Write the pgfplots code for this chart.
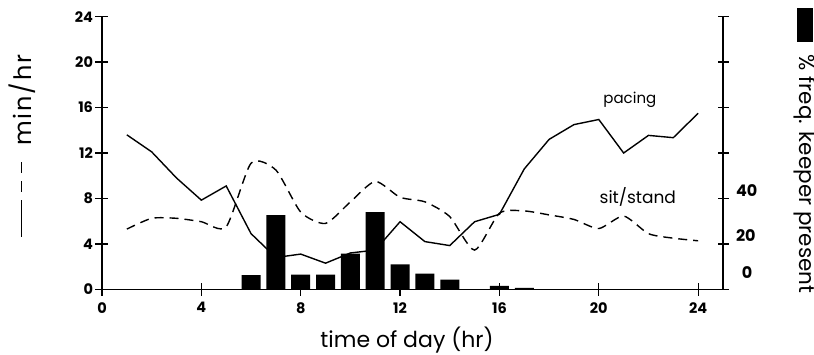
\documentclass[border=0pt]{standalone}
\usepackage{pgfplots}
\pgfplotsset{compat=1.18}
\usepackage{fontspec}
\setmainfont{Poppins}

\pgfplotstableread{
h pacing sit
1 13.6 5.3
2 12.1 6.25
3 9.8 6.25
4 7.85 5.95
5 9.1 5.5
6 4.9 11.1
7 2.8 10.5
8 3.1 6.8
9 2.3 5.8
10 3.2 7.7
11 3.45 9.5
12 5.95 8.1
13 4.2 7.7
14 3.85 6.4
15 5.95 3.45
16 6.6 6.7
17 10.6 6.9
18 13.2 6.55
19 14.5 6.15
20 14.95 5.35
21 12.0 6.45
22 13.55 4.9
23 13.35 4.5
24 15.5 4.27
}\lines

\pgfplotstableread{
h keeper
6 6.2
7 32.6
8 6.5
9 6.5
10 15.7
11 34
12 11
13 6.9
14 4.3
16 1.5
17 0.6
}\bars

\begin{document}
\begin{tikzpicture}[x=1pt,y=1pt]
\begin{axis}[
  at={(0,0)}, anchor=south west,
  scale only axis, width=621pt, height=272.6pt,
  xmin=0, xmax=25, ymin=0, ymax=24,
  axis x line=bottom, axis y line=left,
  axis line style={-, line width=1.5pt},
  xtick={0,4,...,24}, ytick={0,4,...,24},
  tick align=center, major tick length=13pt,
  tick style={line width=1.3pt, black},
  /pgf/number format/assume math mode=true,
  ticklabel style={font=\fontsize{14.5}{16}\selectfont\bfseries},
  xticklabel style={yshift=-3pt},
  yticklabel style={xshift=1pt},
  clip=false,
]
\addplot[black, line width=1.4pt] table[x=h, y=pacing] {\lines};
\addplot[black, line width=1.4pt, dash pattern=on 9pt off 6pt, smooth, tension=0.4] table[x=h, y=sit] {\lines};
\node[font=\fontsize{15}{18}\selectfont] at (axis cs:21.25,16.66) {pacing};
\node[font=\fontsize{17}{20}\selectfont] at (axis cs:21.57,8.12) {sit/stand};
\end{axis}
\begin{axis}[
  at={(0,0)}, anchor=south west,
  scale only axis, width=621pt, height=272.6pt,
  xmin=0, xmax=25, ymin=0, ymax=120,
  axis x line=none, axis y line=right,
  axis line style={-, line width=1.5pt},
  ytick={0,20,...,120}, yticklabels={,20,40,,,,},
  tick align=center, major tick length=11pt,
  tick style={line width=1.3pt, black},
  /pgf/number format/assume math mode=true,
  ticklabel style={font=\fontsize{16}{18}\selectfont\bfseries},
  yticklabel style={xshift=4pt, yshift=8pt},
  clip=false,
]
\addplot[ybar, bar width=19pt, fill=black, draw=none] table[x=h, y=keeper] {\bars};
\end{axis}
\node[font=\fontsize{16}{18}\selectfont\bfseries] at (645,16.3) {0};
\node[rotate=90, font=\fontsize{24}{28}\selectfont, anchor=west] at (-80,49) {\rule[9pt]{37pt}{1.5pt}\hspace{8pt}\rule[9pt]{11pt}{1.5pt}\hspace{8pt}\rule[9pt]{11pt}{1.5pt}\hspace{16pt}{\addfontfeatures{LetterSpace=8}min/hr}};
\node[font=\fontsize{22}{26}\selectfont] at (305,-50.7) {time of day (hr)};
\fill[black] (695,247.3) rectangle (711,281.3);
\node[rotate=-90, font=\fontsize{21.5}{25}\selectfont] at (703,115.3) {\% freq. keeper present};
\pgfresetboundingbox
\path (-102,-64.7) rectangle (712,289.3);
\end{tikzpicture}
\end{document}
